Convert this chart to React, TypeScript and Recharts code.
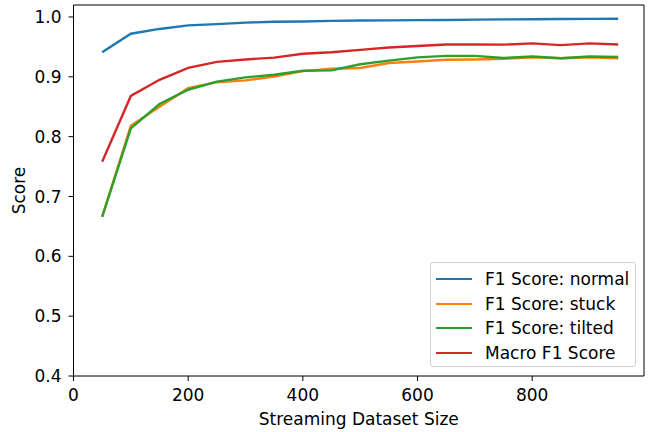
import {
  LineChart,
  Line,
  XAxis,
  YAxis,
  Legend,
  ReferenceLine,
} from "recharts";

const sizes = [50, 100, 150, 200, 250, 300, 350, 400, 450, 500, 550, 600, 650, 700, 750, 800, 850, 900, 950];
const normal = [0.941, 0.972, 0.98, 0.986, 0.988, 0.9905, 0.992, 0.9925, 0.9935, 0.994, 0.9943, 0.9948, 0.995, 0.9955, 0.996, 0.9962, 0.9965, 0.9968, 0.997];
const stuck = [0.666, 0.818, 0.85, 0.881, 0.891, 0.894, 0.9006, 0.9095, 0.9135, 0.9147, 0.923, 0.9257, 0.9286, 0.929, 0.93, 0.9324, 0.931, 0.9324, 0.931];
const tilted = [0.666, 0.8137, 0.8545, 0.8784, 0.892, 0.899, 0.9035, 0.91, 0.9107, 0.921, 0.927, 0.9324, 0.935, 0.935, 0.9314, 0.934, 0.931, 0.934, 0.933];
const macro = [0.758, 0.868, 0.895, 0.915, 0.925, 0.929, 0.932, 0.9386, 0.941, 0.945, 0.949, 0.9515, 0.954, 0.954, 0.9537, 0.9558, 0.953, 0.9558, 0.954];

const xTicks = [0, 200, 400, 600, 800];
const yTicks = [0.4, 0.5, 0.6, 0.7, 0.8, 0.9, 1.0];

const series = [
  { key: "normal", name: "F1 Score: normal", color: "#1f77b4" },
  { key: "stuck", name: "F1 Score: stuck", color: "#ff7f0e" },
  { key: "tilted", name: "F1 Score: tilted", color: "#2ca02c" },
  { key: "macro", name: "Macro F1 Score", color: "#d62728" },
];

const data = sizes.map((s, i) => ({
  size: s,
  normal: normal[i],
  stuck: stuck[i],
  tilted: tilted[i],
  macro: macro[i],
}));

const FONT = "'DejaVu Sans', sans-serif";
const FS = 17;

function LegendBox() {
  return (
    <div
      style={{
        border: "1px solid #d0d0d0",
        borderRadius: 3,
        background: "rgba(255,255,255,0.8)",
        padding: "4px 0",
        boxSizing: "border-box",
        width: 206,
        height: 105,
        fontFamily: FONT,
        fontSize: FS,
        color: "#000",
      }}
    >
      {series.map((s) => (
        <div key={s.key} style={{ display: "flex", alignItems: "center", height: 24.5 }}>
          <div style={{ width: 36, height: 2.4, background: s.color, marginLeft: 5, marginRight: 13 }} />
          <span>{s.name}</span>
        </div>
      ))}
    </div>
  );
}

export default function App() {
  return (
    <div style={{ position: "absolute", left: 0, top: 0, width: 651, height: 432, background: "#fff" }}>
      <style>{"body{margin:0}"}</style>
      <LineChart width={651} height={432} data={data} margin={{ top: 5, right: 7, left: 0, bottom: 0 }}>
        <XAxis
          dataKey="size"
          type="number"
          domain={[0, 995]}
          allowDataOverflow
          ticks={xTicks}
          height={56}
          tickSize={5}
          tickMargin={8}
          stroke="#000"
          tick={{ fill: "#000", fontSize: FS, fontFamily: FONT }}
          label={{
            content: () => (
              <text x={358.75} y={425} textAnchor="middle" fontSize={FS} fontFamily={FONT} fill="#000">
                Streaming Dataset Size
              </text>
            ),
          }}
        />
        <YAxis
          type="number"
          domain={[0.4, 1.02]}
          allowDataOverflow
          ticks={yTicks}
          width={73.5}
          tickSize={5}
          tickMargin={7}
          stroke="#000"
          tickFormatter={(v: number) => v.toFixed(1)}
          tick={{ fill: "#000", fontSize: FS, fontFamily: FONT }}
          label={{
            content: () => (
              <text
                x={24.5}
                y={190.5}
                textAnchor="middle"
                fontSize={FS}
                fontFamily={FONT}
                fill="#000"
                transform="rotate(-90 24.5 190.5)"
              >
                Score
              </text>
            ),
          }}
        />
        <ReferenceLine y={1.02} stroke="#000" strokeWidth={1} />
        <ReferenceLine x={995} stroke="#000" strokeWidth={1} />
        {series.map((s) => (
          <Line
            key={s.key}
            dataKey={s.key}
            name={s.name}
            stroke={s.color}
            strokeWidth={2.4}
            dot={false}
            isAnimationActive={false}
          />
        ))}
        <Legend
          layout="vertical"
          align="center"
          verticalAlign="middle"
          content={() => <LegendBox />}
          wrapperStyle={{ position: "absolute", left: 430, top: 262, width: 206, height: 105 }}
        />
      </LineChart>
    </div>
  );
}
